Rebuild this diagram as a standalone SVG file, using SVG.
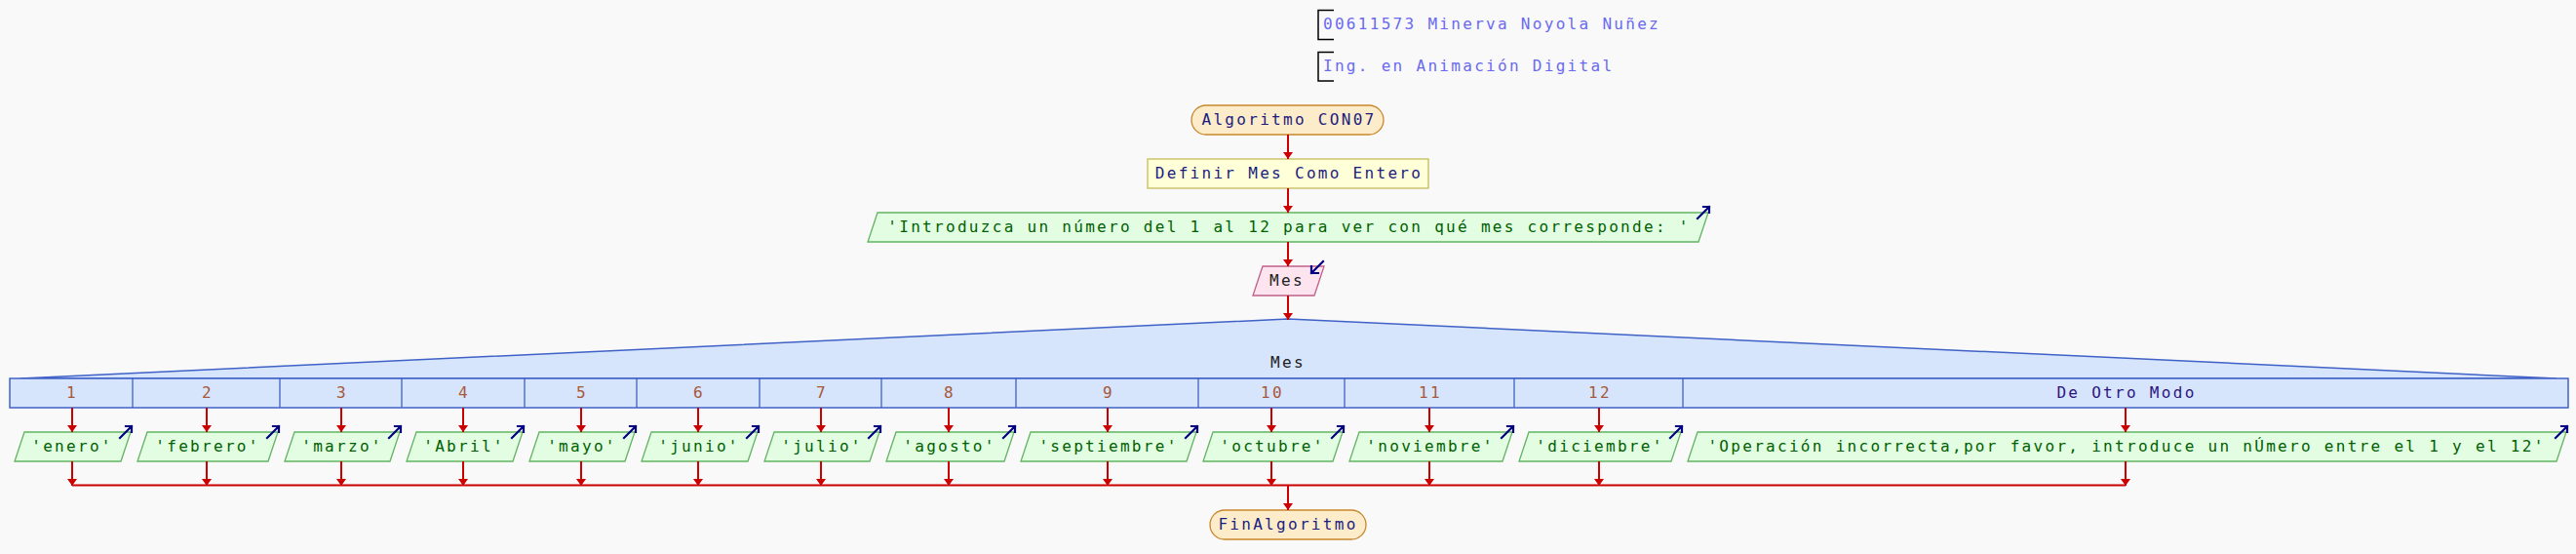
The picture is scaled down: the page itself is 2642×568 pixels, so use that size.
<svg xmlns="http://www.w3.org/2000/svg" xmlns:xlink="http://www.w3.org/1999/xlink" width="2642" height="568" viewBox="0 0 2642 568">
<style>
text{font-family:"DejaVu Sans Mono","Liberation Mono",monospace;font-size:16px;letter-spacing:2.3px}
.mid{text-anchor:middle}
.cm{fill:#6a6af0}
.br{fill:none;stroke:#000;stroke-width:1.5}
.term{fill:#fdecca;stroke:#c8862a;stroke-width:1.3}
.proc{fill:#ffffd8;stroke:#c4bc5c;stroke-width:1.3}
.out{fill:#e2fde2;stroke:#62b462;stroke-width:1.3}
.inp{fill:#fde4ef;stroke:#c06088;stroke-width:1.3}
.sw{fill:#d6e4fc;stroke:#4062c6;stroke-width:1.5}
.tn{fill:#1c1c80}
.tg{fill:#006000}
.ti{fill:#222}
.tc{fill:#a85838}
.td{fill:#2c1480}
.icon{fill:none;stroke:#000080;stroke-width:2.2;stroke-linecap:square}
.fl{fill:none;stroke:#cc0000;stroke-width:2;marker-end:url(#ah)}
.ln{fill:none;stroke:#cc0000;stroke-width:2.2}
</style>
<defs>
<marker id="ah" markerUnits="userSpaceOnUse" viewBox="0 0 7 10" refX="7" refY="5" markerWidth="7" markerHeight="10" orient="auto"><path d="M0,0 L7,5 L0,10 z" fill="#cc0000"/></marker>
<path id="oi" d="M-12,12 L0,0 M-6,0 L0,0 L0,6"/>
<path id="ii" d="M0,0 L-12,12 M-12,5 L-12,12 L-5,12"/>
</defs>
<rect width="2642" height="568" fill="#f9f9f9"/>

<g id="comment1"><path class="br" d="M1368,10.5 H1352 V40.5 H1368"/><text class="cm" x="1357" y="30">00611573 Minerva Noyola Nuñez</text></g>
<g id="comment2"><path class="br" d="M1368,53.5 H1352 V83 H1368"/><text class="cm" x="1357" y="73">Ing. en Animación Digital</text></g>

<g id="start"><rect class="term" x="1222" y="108" width="197" height="30" rx="15"/><text class="tn mid" x="1322" y="128">Algoritmo CON07</text></g>
<g id="define"><rect class="proc" x="1177" y="163" width="288" height="30"/><text class="tn mid" x="1322" y="183">Definir Mes Como Entero</text></g>
<g id="prompt"><polygon class="out" points="900,218 1752,218 1742,248 890,248"/><text class="tg mid" x="1322" y="238">'Introduzca un número del 1 al 12 para ver con qué mes corresponde: '</text><use href="#oi" class="icon" x="1753" y="212"/></g>
<g id="read"><polygon class="inp" points="1295,273 1358,273 1348,303 1285,303"/><text class="ti mid" x="1320" y="293">Mes</text><use href="#ii" class="icon" x="1357" y="268"/></g>

<g id="switch">
<polygon class="sw" points="21,388 1321,327 2622,388"/>
<rect class="sw" x="10" y="388" width="2624" height="30"/>
<text class="ti mid" x="1321" y="377">Mes</text>
<path fill="none" stroke="#4062c6" stroke-width="1.3" d="M136,388V418 M287,388V418 M412,388V418 M538,388V418 M653,388V418 M779,388V418 M904,388V418 M1042,388V418 M1229,388V418 M1379,388V418 M1553,388V418 M1726,388V418"/>
<g class="tc mid">
<text x="74" y="408">1</text><text x="213" y="408">2</text><text x="351" y="408">3</text><text x="476" y="408">4</text><text x="597" y="408">5</text><text x="717" y="408">6</text><text x="843" y="408">7</text><text x="974" y="408">8</text><text x="1137" y="408">9</text><text x="1305" y="408">10</text><text x="1467" y="408">11</text><text x="1641" y="408">12</text>
</g>
<text class="td mid" x="2181" y="408">De Otro Modo</text>
</g>

<g id="o1"><polygon class="out" points="25,443 134,443 124,473 15,473"/><text class="tg mid" x="74" y="463">'enero'</text><use href="#oi" class="icon" x="135" y="437"/></g>
<g id="o2"><polygon class="out" points="151,443 285,443 275,473 141,473"/><text class="tg mid" x="213" y="463">'febrero'</text><use href="#oi" class="icon" x="286" y="437"/></g>
<g id="o3"><polygon class="out" points="302,443 410,443 400,473 292,473"/><text class="tg mid" x="351" y="463">'marzo'</text><use href="#oi" class="icon" x="411" y="437"/></g>
<g id="o4"><polygon class="out" points="427,443 536,443 526,473 417,473"/><text class="tg mid" x="476" y="463">'Abril'</text><use href="#oi" class="icon" x="537" y="437"/></g>
<g id="o5"><polygon class="out" points="553,443 651,443 641,473 543,473"/><text class="tg mid" x="597" y="463">'mayo'</text><use href="#oi" class="icon" x="652" y="437"/></g>
<g id="o6"><polygon class="out" points="668,443 777,443 767,473 658,473"/><text class="tg mid" x="717" y="463">'junio'</text><use href="#oi" class="icon" x="778" y="437"/></g>
<g id="o7"><polygon class="out" points="794,443 902,443 892,473 784,473"/><text class="tg mid" x="843" y="463">'julio'</text><use href="#oi" class="icon" x="903" y="437"/></g>
<g id="o8"><polygon class="out" points="919,443 1040,443 1030,473 909,473"/><text class="tg mid" x="974" y="463">'agosto'</text><use href="#oi" class="icon" x="1041" y="437"/></g>
<g id="o9"><polygon class="out" points="1057,443 1227,443 1217,473 1047,473"/><text class="tg mid" x="1137" y="463">'septiembre'</text><use href="#oi" class="icon" x="1228" y="437"/></g>
<g id="o10"><polygon class="out" points="1244,443 1377,443 1367,473 1234,473"/><text class="tg mid" x="1305" y="463">'octubre'</text><use href="#oi" class="icon" x="1378" y="437"/></g>
<g id="o11"><polygon class="out" points="1394,443 1551,443 1541,473 1384,473"/><text class="tg mid" x="1467" y="463">'noviembre'</text><use href="#oi" class="icon" x="1552" y="437"/></g>
<g id="o12"><polygon class="out" points="1568,443 1724,443 1714,473 1558,473"/><text class="tg mid" x="1641" y="463">'diciembre'</text><use href="#oi" class="icon" x="1725" y="437"/></g>
<g id="o13"><polygon class="out" points="1741,443 2632,443 2622,473 1731,473"/><text class="tg mid" x="2181" y="463">'Operación incorrecta,por favor, introduce un nÚmero entre el 1 y el 12'</text><use href="#oi" class="icon" x="2633" y="437"/></g>

<g id="end"><rect class="term" x="1241" y="523" width="160" height="30" rx="15"/><text class="tn mid" x="1321" y="543">FinAlgoritmo</text></g>

<g id="connectors">
<path class="fl" d="M1321,138V163"/>
<path class="fl" d="M1321,193V218"/>
<path class="fl" d="M1321,248V273"/>
<path class="fl" d="M1321,303V328"/>
<path class="fl" d="M74,418V443"/><path class="fl" d="M212,418V443"/><path class="fl" d="M350,418V443"/><path class="fl" d="M475,418V443"/><path class="fl" d="M596,418V443"/><path class="fl" d="M716,418V443"/><path class="fl" d="M842,418V443"/><path class="fl" d="M973,418V443"/><path class="fl" d="M1136,418V443"/><path class="fl" d="M1304,418V443"/><path class="fl" d="M1466,418V443"/><path class="fl" d="M1640,418V443"/><path class="fl" d="M2180,418V443"/>
<path class="fl" d="M74,473V498"/><path class="fl" d="M212,473V498"/><path class="fl" d="M350,473V498"/><path class="fl" d="M475,473V498"/><path class="fl" d="M596,473V498"/><path class="fl" d="M716,473V498"/><path class="fl" d="M842,473V498"/><path class="fl" d="M973,473V498"/><path class="fl" d="M1136,473V498"/><path class="fl" d="M1304,473V498"/><path class="fl" d="M1466,473V498"/><path class="fl" d="M1640,473V498"/><path class="fl" d="M2180,473V498"/>
<path class="ln" d="M74,497.5H2180"/>
<path class="fl" d="M1321,498V523"/>
</g>
</svg>
